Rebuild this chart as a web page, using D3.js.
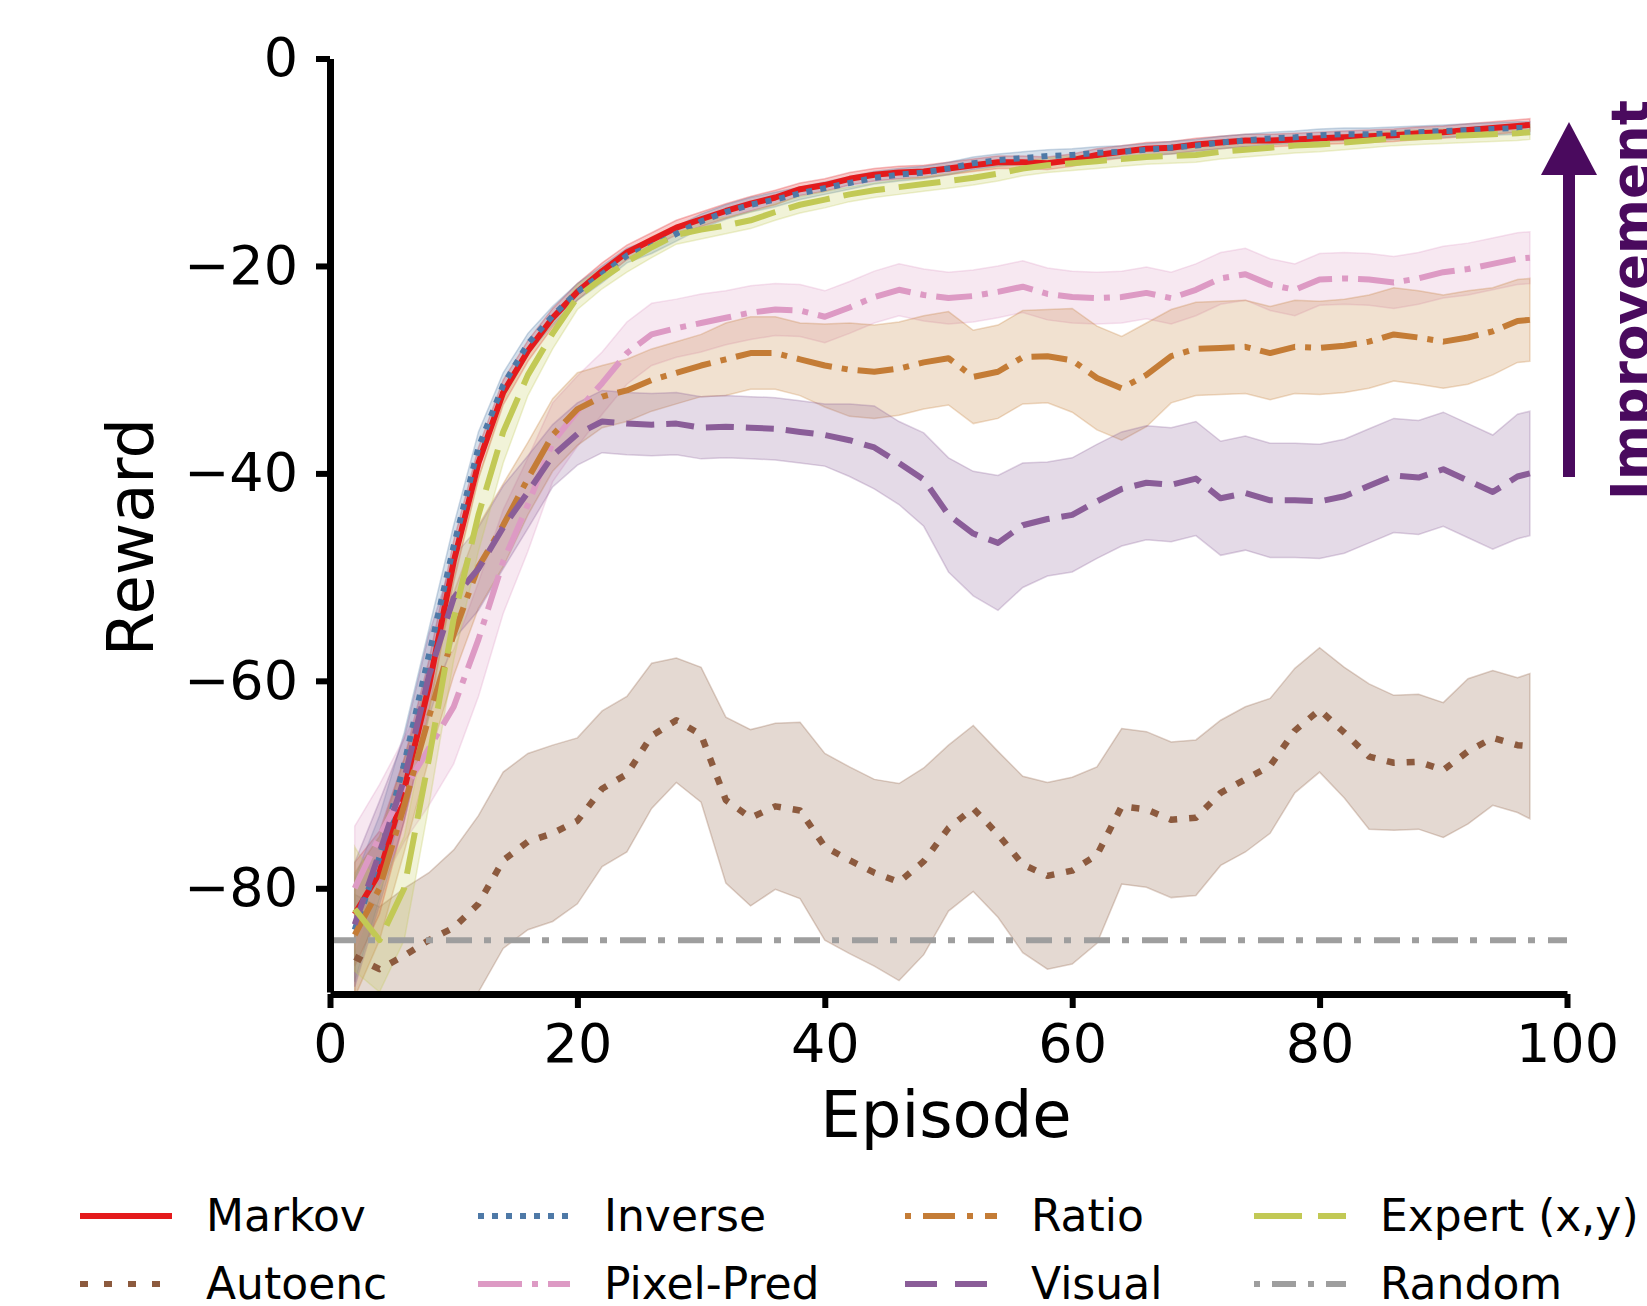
<!DOCTYPE html>
<html>
<head>
<meta charset="utf-8">
<script src="https://cdn.jsdelivr.net/npm/d3@7"></script>
<style>
body { margin: 0; background: #fff; }
</style>
</head>
<body>
<script>
// episodes sampled along the x axis
var episodes = [2,4,6,8,10,12,14,16,18,20,22,24,26,28,30,32,34,36,38,40,42,44,46,48,50,52,54,56,58,60,62,64,66,68,70,72,74,76,78,80,82,84,86,88,90,92,94,96,97];

var markovMean = [-82.5,-78.5,-70.5,-60.5,-48.5,-39,-32.2,-28.2,-25,-22.5,-20.5,-18.7,-17.5,-16.3,-15.5,-14.7,-14.0,-13.4,-12.6,-12.2,-11.6,-11.2,-11.0,-10.9,-10.6,-10.3,-10.0,-10.0,-10.1,-9.8,-9.3,-9.0,-8.7,-8.6,-8.3,-8.1,-7.9,-7.9,-7.8,-7.7,-7.6,-7.5,-7.4,-7.2,-7.1,-6.9,-6.7,-6.5,-6.4];
var markovSd = [5,4,3,2.5,2,1.5,1.2,1,0.9,0.8,0.8,0.7,0.7,0.7,0.7,0.7,0.7,0.7,0.6,0.6,0.6,0.6,0.6,0.6,0.6,0.6,0.6,0.6,0.6,0.6,0.6,0.6,0.6,0.6,0.6,0.6,0.6,0.6,0.6,0.6,0.6,0.6,0.6,0.6,0.6,0.6,0.6,0.6,0.6];

var inverseMean = [-84,-77,-68,-57.5,-47,-37.5,-31.5,-27.5,-24.8,-22.5,-20.8,-19.0,-18.1,-16.9,-15.7,-14.8,-14.1,-13.6,-13.0,-12.5,-12.0,-11.5,-11.2,-11.0,-10.6,-10.1,-9.8,-9.6,-9.4,-9.3,-9.1,-9.0,-8.8,-8.6,-8.4,-8.1,-7.9,-7.7,-7.6,-7.4,-7.3,-7.3,-7.2,-7.1,-7.0,-6.9,-6.8,-6.7,-6.7];
var inverseSd = [5,4,3,2.5,2,1.5,1.2,1,0.9,0.8,0.8,0.7,0.7,0.7,0.7,0.7,0.7,0.7,0.6,0.6,0.6,0.6,0.6,0.6,0.6,0.6,0.6,0.6,0.6,0.6,0.6,0.6,0.6,0.6,0.6,0.6,0.6,0.6,0.6,0.6,0.6,0.6,0.6,0.6,0.6,0.6,0.6,0.6,0.6];

var expertMean = [-82,-85,-80,-67.5,-54,-44,-36,-30.5,-26.5,-23.0,-21.2,-19.6,-18.2,-17.0,-16.5,-16.1,-15.6,-14.8,-14.1,-13.6,-13.1,-12.7,-12.4,-12.1,-11.8,-11.5,-11.1,-10.6,-10.3,-10.1,-9.9,-9.7,-9.5,-9.4,-9.3,-9.0,-8.8,-8.6,-8.4,-8.3,-8.1,-7.9,-7.7,-7.6,-7.5,-7.4,-7.3,-7.2,-7.1];
var expertSd = [6,5,5,4.5,4,3.5,3,2,1.5,1.2,1,1,1,0.9,0.9,0.8,0.8,0.8,0.8,0.8,0.7,0.7,0.7,0.7,0.7,0.7,0.7,0.7,0.7,0.7,0.7,0.7,0.7,0.7,0.7,0.7,0.7,0.7,0.7,0.7,0.7,0.7,0.7,0.7,0.7,0.7,0.7,0.7,0.7];

var pixelMean = [-80,-75,-70.5,-66.5,-62.5,-56,-48.5,-43,-37,-34,-31.3,-28.4,-26.6,-26,-25.5,-25,-24.5,-24.2,-24.3,-24.9,-24.0,-23.0,-22.3,-22.8,-23.1,-22.9,-22.5,-22.0,-22.7,-23.0,-23.1,-23.0,-22.6,-23.1,-22.3,-21.2,-20.8,-21.8,-22.3,-21.3,-21.2,-21.3,-21.6,-21.2,-20.6,-20.3,-19.8,-19.3,-19.2];
var pixelSd = [6,5,5,5.5,5.5,5.5,5,4.5,3.8,3.4,3,3,3,2.8,2.8,2.6,2.6,2.5,2.5,2.5,2.5,2.5,2.5,2.5,2.5,2.5,2.5,2.5,2.5,2.5,2.5,2.5,2.5,2.5,2.5,2.5,2.5,2.5,2.5,2.5,2.5,2.5,2.5,2.5,2.5,2.5,2.5,2.5,2.5];

var ratioMean = [-84.5,-80,-72,-63.5,-55.5,-49,-45,-40.5,-36.3,-33.8,-32.6,-32.0,-31.0,-30.3,-29.6,-29.0,-28.4,-28.4,-29.0,-29.6,-30.0,-30.2,-29.9,-29.3,-28.9,-30.7,-30.2,-28.8,-28.7,-29.1,-30.8,-31.8,-30.5,-28.7,-28.0,-27.9,-27.8,-28.4,-27.8,-27.9,-27.7,-27.3,-26.6,-26.9,-27.3,-26.9,-26.3,-25.3,-25.2];
var ratioSd = [6,5,4.5,4,4,4,4,3.5,3.5,3.5,3,3,3,3,3,3.5,3.5,3.5,3.5,4,4.5,4.5,4.5,4.5,4.5,4.5,4.5,4.5,4.5,5,5,5,5,4.5,4.5,4.5,4.5,4.5,4.5,4.5,4.5,4.5,4.5,4.5,4.5,4.5,4.2,4,4];

var visualMean = [-83.5,-76.6,-69.5,-59.5,-52,-49.2,-45.2,-41.8,-38.3,-36.2,-35.0,-35.2,-35.3,-35.2,-35.6,-35.5,-35.6,-35.7,-36.0,-36.3,-36.8,-37.5,-39,-40.6,-44,-45.8,-46.7,-45.0,-44.4,-44.0,-42.7,-41.5,-40.9,-41.1,-40.5,-42.4,-41.9,-42.6,-42.6,-42.7,-42.2,-41.2,-40.2,-40.4,-39.6,-40.7,-41.8,-40.3,-40.0];
var visualSd = [6,5,4,4,4,4,4,3.5,3,3,3,3,3,3,3,3,3,3,3,3,3.5,4,4,4.5,5.5,6,6.5,6,5.5,5.5,5.5,5.5,5.5,5.5,5.5,5.5,5.5,5.5,5.5,5.5,5.5,5.5,5.5,5.5,5.5,5.5,5.5,6,6];

var autoencMean = [-86.6,-87.8,-86.5,-85,-83.8,-81.5,-77.3,-75.5,-74.7,-73.5,-70.4,-69,-65.3,-63.8,-65.2,-71.5,-73.2,-72.1,-72.5,-76,-77.3,-78.5,-79.4,-77.4,-74.2,-72.3,-74.8,-77.7,-78.8,-78.3,-76.8,-72.1,-72.4,-73.4,-73.2,-70.8,-69.5,-68.2,-64.8,-62.8,-65.0,-67.3,-67.9,-67.8,-68.6,-66.8,-65.5,-66.2,-66.3];
var autoencSd = [6,6,6.5,6.5,7.5,8.5,8.5,8.5,8.5,8,7.5,7.5,7,6,6.5,8,8.5,8,8.5,9,9,9,9.5,9,8,8,8,8.5,9,9,8.5,7.5,7.5,7.5,7.5,7,7,6.5,6,6,6.3,7,6.5,6.5,6.5,7,6.5,6.5,7];

var randomLevel = -85;

var xTicks = [0, 20, 40, 60, 80, 100];
var yTicks = [0, -20, -40, -60, -80];

// plotting order follows the legend (column by column)
var series = [
    {name: "Markov",       mean: markovMean,  sd: markovSd,  color: "#e41a1c", dash: null,         width: 6},
    {name: "Autoenc",      mean: autoencMean, sd: autoencSd, color: "#8c5a3e", dash: "8,12",       width: 6.5},
    {name: "Inverse",      mean: inverseMean, sd: inverseSd, color: "#4e79a7", dash: "6,8",        width: 6},
    {name: "Pixel-Pred",   mean: pixelMean,   sd: pixelSd,   color: "#dd9ac4", dash: "36,10,6,10", width: 6},
    {name: "Ratio",        mean: ratioMean,   sd: ratioSd,   color: "#c47c36", dash: "36,10,6,10", width: 6},
    {name: "Visual",       mean: visualMean,  sd: visualSd,  color: "#8a5d98", dash: "28,12",      width: 6},
    {name: "Expert (x,y)", mean: expertMean,  sd: expertSd,  color: "#c2c955", dash: "42,14",      width: 6}
];

var W = 1647, H = 1306;
var svg = d3.select("body").append("svg")
    .attr("width", W)
    .attr("height", H)
    .style("font-family", "DejaVu Sans");

var x = d3.scaleLinear().domain([0, 100]).range([330, 1567]);
var y = d3.scaleLinear().domain([-90, 0]).range([992, 58.5]);

svg.append("clipPath").attr("id", "plotclip")
    .append("rect")
    .attr("x", x(0)).attr("y", 0)
    .attr("width", x(100) - x(0)).attr("height", y(-90));

var plot = svg.append("g").attr("clip-path", "url(#plotclip)");

function rows(s) {
    return episodes.map(function (e, i) {
        return {ep: e, m: s.mean[i], s: s.sd[i]};
    });
}

var area = d3.area()
    .x(function (d) { return x(d.ep); })
    .y0(function (d) { return y(d.m - d.s); })
    .y1(function (d) { return y(d.m + d.s); });

var line = d3.line()
    .x(function (d) { return x(d.ep); })
    .y(function (d) { return y(d.m); });

// bands under every line
series.forEach(function (s) {
    plot.append("path")
        .datum(rows(s))
        .attr("d", area)
        .attr("fill", s.color)
        .attr("fill-opacity", 0.23)
        .attr("stroke", s.color)
        .attr("stroke-opacity", 0.28)
        .attr("stroke-width", 1.5);
});

series.forEach(function (s) {
    plot.append("path")
        .datum(rows(s))
        .attr("d", line)
        .attr("fill", "none")
        .attr("stroke", s.color)
        .attr("stroke-width", s.width)
        .attr("stroke-dasharray", s.dash)
        .attr("stroke-linejoin", "round");
});

// random baseline
plot.append("line")
    .attr("x1", x(0)).attr("x2", x(100))
    .attr("y1", y(randomLevel)).attr("y2", y(randomLevel))
    .attr("stroke", "#9e9e9e")
    .attr("stroke-width", 6)
    .attr("stroke-dasharray", "26,12,7,13");

// axes
var yAxis = svg.append("g")
    .attr("transform", "translate(" + x(0) + ",0)")
    .call(d3.axisLeft(y).tickValues(yTicks).tickSize(14).tickSizeOuter(0).tickPadding(18));
var xAxis = svg.append("g")
    .attr("transform", "translate(0," + (y(-90) + 2) + ")")
    .call(d3.axisBottom(x).tickValues(xTicks).tickSize(14).tickSizeOuter(0).tickPadding(16));

[xAxis, yAxis].forEach(function (g) {
    g.select(".domain").attr("stroke", "#000").attr("stroke-width", 7);
    g.selectAll(".tick line").attr("stroke", "#000").attr("stroke-width", 6);
    g.selectAll(".tick text")
        .attr("fill", "#000")
        .style("font-size", "54px")
        .style("font-family", "DejaVu Sans");
});

svg.append("text")
    .attr("x", 946).attr("y", 1137)
    .attr("text-anchor", "middle")
    .style("font-size", "64px")
    .text("Episode");

svg.append("text")
    .attr("transform", "translate(153,537) rotate(-90)")
    .attr("text-anchor", "middle")
    .style("font-size", "64px")
    .text("Reward");

// improvement arrow
var purple = "#4a0a5e";
svg.append("rect")
    .attr("x", 1563).attr("y", 170)
    .attr("width", 12).attr("height", 307)
    .attr("fill", purple);
svg.append("path")
    .attr("d", "M1569,122 L1597,175 L1541,175 Z")
    .attr("fill", purple);
svg.append("text")
    .attr("transform", "translate(1649,300) rotate(-90)")
    .attr("text-anchor", "middle")
    .attr("fill", purple)
    .style("font-size", "53px")
    .style("font-weight", "bold")
    .text("Improvement");

// legend, 4 columns x 2 rows
var legendItems = [
    {name: "Markov",       color: "#e41a1c", dash: null,         col: 0, row: 0},
    {name: "Autoenc",      color: "#8c5a3e", dash: "8,16",       col: 0, row: 1},
    {name: "Inverse",      color: "#4e79a7", dash: "6,8",        col: 1, row: 0},
    {name: "Pixel-Pred",   color: "#dd9ac4", dash: "44,10,6,10", col: 1, row: 1},
    {name: "Ratio",        color: "#c47c36", dash: "6,12,32,12", col: 2, row: 0},
    {name: "Visual",       color: "#8a5d98", dash: "32,18",      col: 2, row: 1},
    {name: "Expert (x,y)", color: "#c2c955", dash: "48,16",      col: 3, row: 0},
    {name: "Random",       color: "#9e9e9e", dash: "6,12,24,12", col: 3, row: 1}
];
var colX = [80, 478, 905, 1254];
var rowY = [1216, 1284];

var leg = svg.selectAll(".leg").data(legendItems).enter().append("g")
    .attr("class", "leg")
    .attr("transform", function (d) { return "translate(" + colX[d.col] + "," + rowY[d.row] + ")"; });

leg.append("line")
    .attr("x1", 0).attr("x2", 92)
    .attr("y1", 0).attr("y2", 0)
    .attr("stroke", function (d) { return d.color; })
    .attr("stroke-width", 6)
    .attr("stroke-dasharray", function (d) { return d.dash; });

leg.append("text")
    .attr("x", 126)
    .attr("y", 15)
    .style("font-size", "44px")
    .text(function (d) { return d.name; });
</script>
</body>
</html>
